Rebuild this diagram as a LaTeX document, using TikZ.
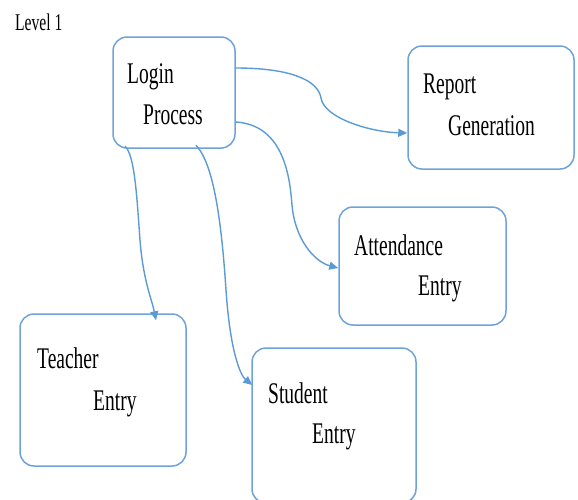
\documentclass[tikz,border=0pt]{standalone}
\usepackage{graphicx}
\usepackage{fontspec}
\setmainfont{Liberation Serif}
\usetikzlibrary{arrows.meta}
\definecolor{boxblue}{HTML}{6FA3D8}
\definecolor{linkblue}{HTML}{5B9BD5}
\newcommand\narrowtxt[1]{\scalebox{0.65}[1]{#1}}
\begin{document}
\begin{tikzpicture}[x=1pt,y=-1pt,
  boxnode/.style={draw=boxblue, line width=1.5pt, rounded corners=14pt, rectangle, inner sep=0pt},
  txt/.style={anchor=base west, inner sep=0pt, font=\fontsize{30}{36}\selectfont},
  link/.style={draw=linkblue, line width=1.4pt, -{Triangle[width=8pt,length=9pt]}}]
\path[use as bounding box] (0,0) rectangle (578,499);
\clip (0,0) rectangle (578,499);
% boxes
\node[boxnode, minimum width=122pt, minimum height=111pt] (login) at (174,92.5) {};
\node[boxnode, minimum width=166pt, minimum height=123pt] (report) at (491,107.5) {};
\node[boxnode, minimum width=167pt, minimum height=118pt] (attend) at (422.5,266) {};
\node[boxnode, minimum width=166pt, minimum height=152pt] (teacher) at (103,390) {};
\node[boxnode, minimum width=164pt, minimum height=155pt] (student) at (334,425.5) {};
% texts
\node[txt, font=\fontsize{24}{28}\selectfont] (level) at (15,30) {\narrowtxt{Level 1}};
\node[txt] (t1a) at (127,83) {\narrowtxt{Login}};
\node[txt] (t1b) at (143,124) {\narrowtxt{Process}};
\node[txt] (t2a) at (423,93) {\narrowtxt{Report}};
\node[txt] (t2b) at (448,135) {\narrowtxt{Generation}};
\node[txt] (t3a) at (354,255) {\narrowtxt{Attendance}};
\node[txt] (t3b) at (418,295) {\narrowtxt{Entry}};
\node[txt] (t4a) at (37,368) {\narrowtxt{Teacher}};
\node[txt] (t4b) at (93,410) {\narrowtxt{Entry}};
\node[txt] (t5a) at (268,403) {\narrowtxt{Student}};
\node[txt] (t5b) at (312,443) {\narrowtxt{Entry}};
% bend points of the connectors
\coordinate (m1) at (321,98);
\coordinate (m2) at (292,205);
\coordinate (m3) at (140,240);
\coordinate (m4) at (226,290);
% connectors
\draw[link] ([yshift=24.5pt]login.east) .. controls (290,68) and (318,80) .. (m1)
  .. controls (324,118) and (370,132) .. ([yshift=-25.5pt]report.west);
\draw[link] ([yshift=-29.5pt]login.east) .. controls (285,125) and (290,180) .. (m2)
  .. controls (295,240) and (315,262) .. ([yshift=-2pt]attend.west);
\draw[link] ([xshift=-49pt,yshift=2.5pt]login.south) .. controls (135,155) and (137,200) .. (m3)
  .. controls (143,280) and (152,300) .. ([xshift=53pt,yshift=-7pt]teacher.north);
\draw[link] ([xshift=22pt,yshift=3.5pt]login.south) .. controls (215,165) and (222,230) .. (m4)
  .. controls (230,350) and (240,375) .. ([xshift=1pt,yshift=40.5pt]student.west);
\end{tikzpicture}
\end{document}
